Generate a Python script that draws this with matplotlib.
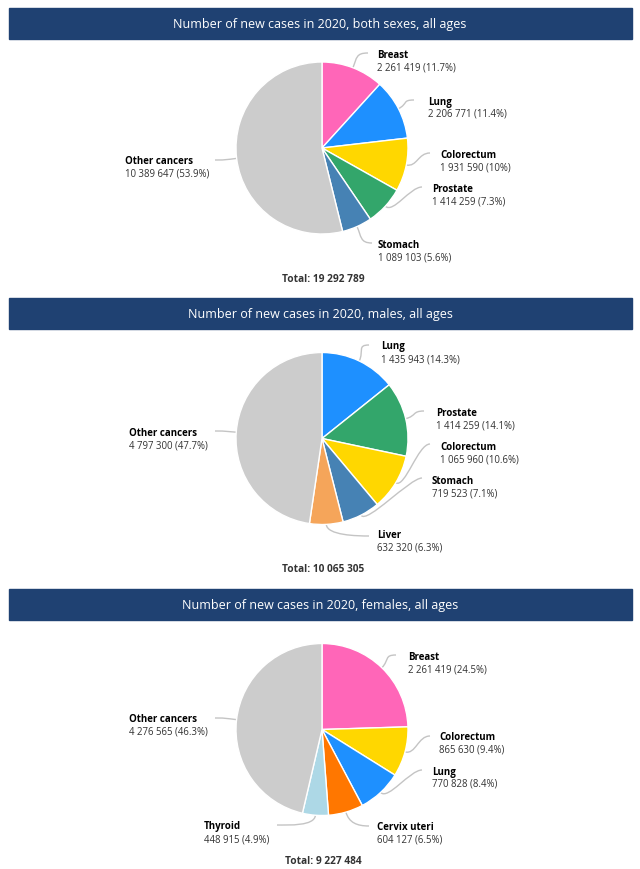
import numpy as np
import matplotlib
matplotlib.use('Agg')
import matplotlib.pyplot as plt
from matplotlib.patches import Rectangle, PathPatch
from matplotlib.path import Path

plt.rcParams['font.family'] = ['Open Sans', 'DejaVu Sans']

W, H = 640, 869

# ---- data ----
titles = ['Number of new cases in 2020, both sexes, all ages',
          'Number of new cases in 2020, males, all ages',
          'Number of new cases in 2020, females, all ages']

both_names = ['Breast', 'Lung', 'Colorectum', 'Prostate', 'Stomach', 'Other cancers']
both_values = [2261419, 2206771, 1931590, 1414259, 1089103, 10389647]
both_pct = ['11.7%', '11.4%', '10%', '7.3%', '5.6%', '53.9%']

male_names = ['Lung', 'Prostate', 'Colorectum', 'Stomach', 'Liver', 'Other cancers']
male_values = [1435943, 1414259, 1065960, 719523, 632320, 4797300]
male_pct = ['14.3%', '14.1%', '10.6%', '7.1%', '6.3%', '47.7%']

female_names = ['Breast', 'Colorectum', 'Lung', 'Cervix uteri', 'Thyroid', 'Other cancers']
female_values = [2261419, 865630, 770828, 604127, 448915, 4276565]
female_pct = ['24.5%', '9.4%', '8.4%', '6.5%', '4.9%', '46.3%']

totals = [19292789, 10065305, 9227484]

# ---- styles ----
cancer_colors = {'Breast': '#ff66b8', 'Lung': '#1e90ff', 'Colorectum': '#ffd700',
                 'Prostate': '#33a66b', 'Stomach': '#4682b4', 'Liver': '#f5a55a',
                 'Cervix uteri': '#ff7700', 'Thyroid': '#add8e6',
                 'Other cancers': '#cccccc'}
header_color = '#1f4172'
line_color = '#c4c4c4'

# layout in pixels (from top)
header_tops = [8, 298, 589]
header_h = 31
pie_cy = [148, 438.5, 729.5]
pie_cx = 322
pie_r = 86
total_y = [279, 569, 861]

# label anchors: (text x, name line y, connector end x, connector end y)
label_pos = [
    [(377, 55, 368, 53), (428, 102, 414, 100), (440, 156, 430, 153),
     (432, 190, 422, 187), (378, 245, 372, 243), (125, 162, 215, 160)],
    [(381, 347, 369, 345), (436, 413, 424, 411), (440, 447, 430, 444),
     (432, 481, 422, 478), (377, 536, 369, 536), (129, 433, 215, 431)],
    [(408, 657, 396, 655), (439, 738, 430, 736), (432, 772, 422, 770),
     (377, 827, 369, 826), (204, 827, 277, 825), (129, 720, 215, 718)],
]


def fmt(v):
    return f'{v:,}'.replace(',', ' ')


def Y(y):
    return H - y


fig = plt.figure(figsize=(W / 100, H / 100), dpi=100)
ax = fig.add_axes([0, 0, 1, 1])

panels = [(both_names, both_values, both_pct),
          (male_names, male_values, male_pct),
          (female_names, female_values, female_pct)]

for i, (names, values, pct) in enumerate(panels):
    # header bar
    ax.add_patch(Rectangle((9, Y(header_tops[i] + header_h)), 623, header_h,
                           color=header_color, zorder=1))
    ax.text(W / 2, Y(header_tops[i] + header_h / 2 + 1), titles[i], color='white',
            fontsize=9, ha='center', va='center', zorder=2)

    cy = Y(pie_cy[i])
    wedges, _ = ax.pie(values, colors=[cancer_colors[n] for n in names],
                       startangle=90, counterclock=False,
                       center=(pie_cx, cy), radius=pie_r,
                       wedgeprops=dict(edgecolor='white', linewidth=1))
    for w in wedges:
        w.set_zorder(3)

    for j, w in enumerate(wedges):
        tx, ny, ex, ey = label_pos[i][j]
        mid = np.deg2rad((w.theta1 + w.theta2) / 2)
        ux, uy = np.cos(mid), np.sin(mid)
        sx, sy = pie_cx + pie_r * ux, cy + pie_r * uy
        side = 1 if ex > pie_cx else -1
        # soft connector: leaves the slice radially, arrives horizontally
        verts = [(sx, sy), (sx + 11 * ux, sy + 11 * uy),
                 (ex - side * 12, Y(ey)), (ex, Y(ey))]
        ax.add_patch(PathPatch(Path(verts, [Path.MOVETO, Path.CURVE4, Path.CURVE4, Path.CURVE4]),
                               facecolor='none', edgecolor=line_color, lw=1, zorder=2))
        ax.text(tx, Y(ny), names[j], fontsize=7, fontweight='bold', color='#000000',
                ha='left', va='center', zorder=4)
        ax.text(tx, Y(ny + 12.5), f'{fmt(values[j])} ({pct[j]})', fontsize=6.9,
                color='#333333', ha='left', va='center', zorder=4)

    ax.text(323, Y(total_y[i]), f'Total: {fmt(totals[i])}', fontsize=7.3,
            fontweight='bold', color='#333333', ha='center', va='center')

ax.set_xlim(0, W)
ax.set_ylim(0, H)
ax.axis('off')

fig.savefig('out.png', dpi=100, facecolor='white')
